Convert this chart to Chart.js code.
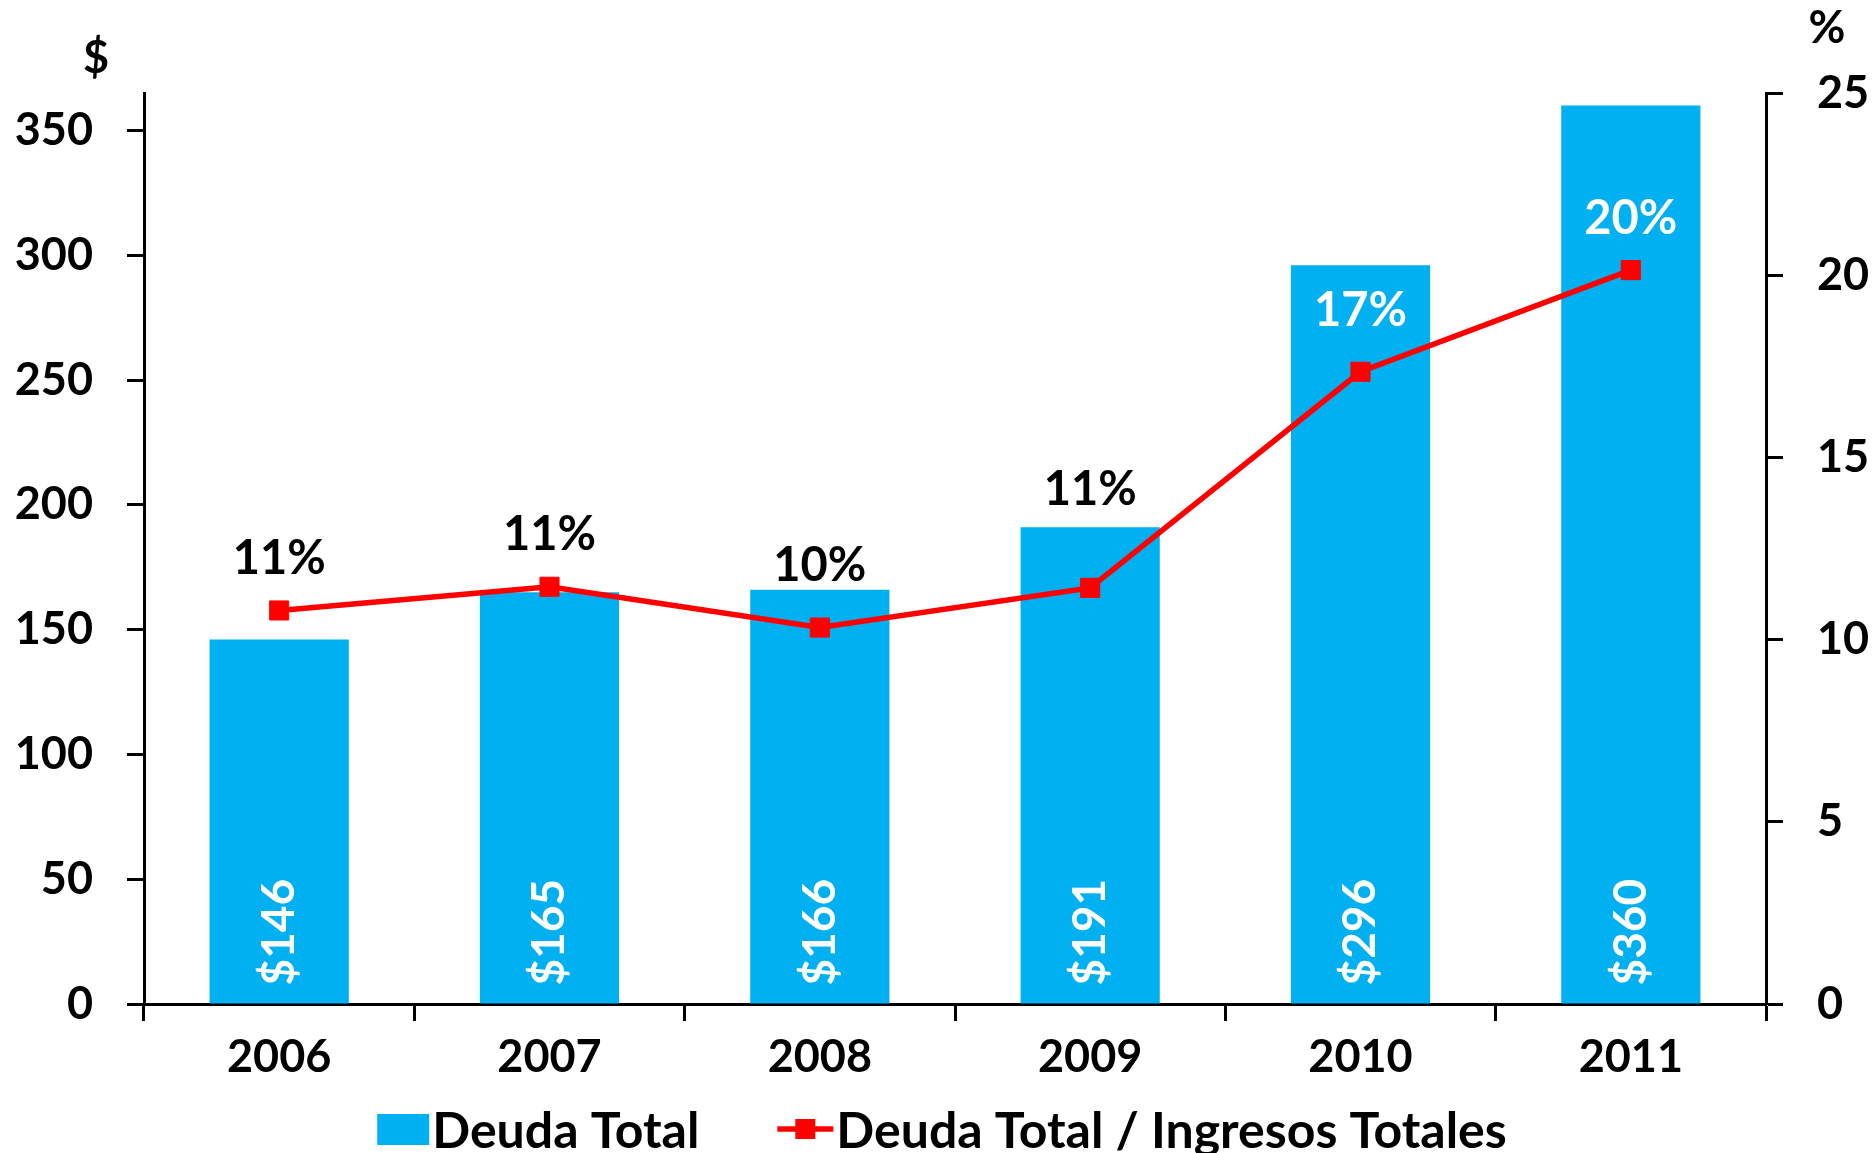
<!DOCTYPE html>
<html>
<head>
<meta charset="utf-8">
<script src="https://cdn.jsdelivr.net/npm/chart.js@4/dist/chart.umd.min.js"></script>
<style>
  html, body { margin: 0; padding: 0; background: #fff; }
  #wrap { width: 1874px; height: 1153px; }
</style>
</head>
<body>
<div id="wrap"><canvas id="chart" width="1874" height="1153"></canvas></div>
<script>
// datos del gráfico
const years = ['2006', '2007', '2008', '2009', '2010', '2011'];
const deudaTotal = [146, 165, 166, 191, 296, 360];
const deudaIngresos = [10.8, 11.45, 10.33, 11.42, 17.35, 20.14];
const debtTicks = [0, 50, 100, 150, 200, 250, 300, 350];
const ratioTicks = [0, 5, 10, 15, 20, 25];

// estilos
const BLUE = '#00B0F0';
const RED = '#FF0000';
const FONT = 'Lato, "DejaVu Sans", sans-serif';
const labelLift = [52, 52, 62, 98, 61, 51];       // distancia de la etiqueta % sobre el punto
const labelColor = ['#000', '#000', '#000', '#000', '#fff', '#fff'];

// etiquetas de valores (barras y línea)
const valueLabels = {
    id: 'valueLabels',
    afterDatasetsDraw(chart) {
        const ctx = chart.ctx;
        ctx.save();

        // $ vertical dentro de las barras
        ctx.font = 'bold 46px ' + FONT;
        chart.getDatasetMeta(1).data.forEach((bar, i) => {
            ctx.save();
            ctx.translate(bar.x, bar.base - 18);
            ctx.rotate(-Math.PI / 2);
            ctx.fillStyle = '#fff';
            ctx.textAlign = 'left';
            ctx.textBaseline = 'middle';
            ctx.fillText('$' + deudaTotal[i], 0, 0);
            ctx.restore();
        });

        // % sobre los puntos
        ctx.font = 'bold 47px ' + FONT;
        chart.getDatasetMeta(0).data.forEach((pt, i) => {
            ctx.fillStyle = labelColor[i];
            ctx.textAlign = 'center';
            ctx.textBaseline = 'middle';
            ctx.fillText(Math.round(deudaIngresos[i]) + '%', pt.x, pt.y - labelLift[i]);
        });
        ctx.restore();
    }
};

// títulos de ejes y leyenda
const extras = {
    id: 'extras',
    afterDraw(chart) {
        const ctx = chart.ctx;
        const area = chart.chartArea;
        ctx.save();
        ctx.fillStyle = '#000';
        ctx.textAlign = 'center';
        ctx.textBaseline = 'middle';
        ctx.font = 'bold 45px ' + FONT;
        ctx.fillText('$', area.left - 48, area.top - 35);
        ctx.fillText('%', area.right + 61, area.top - 65);

        // leyenda
        ctx.font = 'bold 50px ' + FONT;
        const t1 = 'Deuda Total';
        const t2 = 'Deuda Total / Ingresos Totales';
        const w1 = ctx.measureText(t1).width;
        const w2 = ctx.measureText(t2).width;
        const gap = 3;
        const total = 52 + gap + w1 + 78 + 56 + gap + w2;
        let x = chart.width / 2 + 5 - total / 2;
        const y = 1129;

        ctx.fillStyle = BLUE;
        ctx.fillRect(x, y - 15, 52, 31);
        x += 52 + gap;
        ctx.fillStyle = '#000';
        ctx.textAlign = 'left';
        ctx.fillText(t1, x, y + 3);
        x += w1 + 78;

        ctx.strokeStyle = RED;
        ctx.lineWidth = 5.5;
        ctx.beginPath();
        ctx.moveTo(x, y);
        ctx.lineTo(x + 56, y);
        ctx.stroke();
        ctx.fillStyle = RED;
        ctx.fillRect(x + 18, y - 10, 20, 20);
        x += 56 + gap;
        ctx.fillStyle = '#000';
        ctx.fillText(t2, x, y + 3);
        ctx.restore();
    }
};

const axisLine = {
    display: true,
    drawOnChartArea: false,
    drawTicks: true,
    tickLength: 17,
    tickWidth: 3,
    tickColor: '#000'
};

new Chart(document.getElementById('chart'), {
    data: {
        labels: years,
        datasets: [
            {
                type: 'line',
                label: 'Deuda Total / Ingresos Totales',
                data: deudaIngresos,
                yAxisID: 'y1',
                borderColor: RED,
                backgroundColor: RED,
                borderWidth: 5.5,
                pointStyle: 'rect',
                pointRadius: 13.5,
                pointBorderWidth: 1,
                pointBackgroundColor: RED,
                pointBorderColor: RED,
                tension: 0,
                order: 0
            },
            {
                type: 'bar',
                label: 'Deuda Total',
                data: deudaTotal,
                yAxisID: 'y',
                backgroundColor: BLUE,
                categoryPercentage: 1,
                barPercentage: 0.515,
                order: 1
            }
        ]
    },
    options: {
        responsive: false,
        animation: false,
        devicePixelRatio: 1,
        layout: { padding: { top: 93, bottom: 69, left: 0, right: 0 } },
        plugins: {
            legend: { display: false },
            tooltip: { enabled: false }
        },
        scales: {
            x: {
                offset: true,
                grid: Object.assign({}, axisLine, { offset: true }),
                border: { display: true, color: '#000', width: 3 },
                ticks: { color: '#000', padding: 9, font: { family: FONT, size: 45, weight: 'bold' } },
                afterFit(scale) { scale.height = 80; }
            },
            y: {
                position: 'left',
                min: 0,
                max: 365,
                afterBuildTicks(scale) { scale.ticks = debtTicks.map(v => ({ value: v })); },
                grid: axisLine,
                border: { display: true, color: '#000', width: 3 },
                ticks: { color: '#000', padding: 34, font: { family: FONT, size: 45, weight: 'bold' } },
                afterFit(scale) { scale.width = 144; }
            },
            y1: {
                position: 'right',
                min: 0,
                max: 25,
                afterBuildTicks(scale) { scale.ticks = ratioTicks.map(v => ({ value: v })); },
                grid: axisLine,
                border: { display: true, color: '#000', width: 3 },
                ticks: { color: '#000', padding: 34, font: { family: FONT, size: 45, weight: 'bold' } },
                afterFit(scale) { scale.width = 108; }
            }
        }
    },
    plugins: [valueLabels, extras]
});
</script>
</body>
</html>
